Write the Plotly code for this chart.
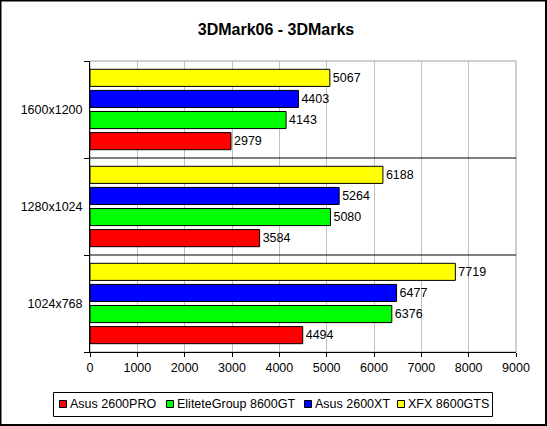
import plotly.graph_objects as go

categories = ["1024x768", "1280x1024", "1600x1200"]
series_names = ["Asus 2600PRO", "EliteteGroup 8600GT", "Asus 2600XT", "XFX 8600GTS"]
asus_2600pro = [4494, 3584, 2979]
elitegroup_8600gt = [6376, 5080, 4143]
asus_2600xt = [6477, 5264, 4403]
xfx_8600gts = [7719, 6188, 5067]
x_ticks = [0, 1000, 2000, 3000, 4000, 5000, 6000, 7000, 8000, 9000]

colors = ["#ff0000", "#00ff00", "#0000ff", "#ffff00"]
values = [asus_2600pro, elitegroup_8600gt, asus_2600xt, xfx_8600gts]

FONT = "Arial, Liberation Sans, sans-serif"
W, H = 547, 426
L, R, T, B = 90, 31, 61, 74
pw, ph = W - L - R, H - T - B


def px_x(p):
    return (p - L) / pw


def px_y(p):
    return (T + ph - p) / ph


fig = go.Figure()
for name, vals, col in zip(series_names, values, colors):
    fig.add_trace(go.Bar(
        y=categories, x=vals, name=name, orientation="h",
        marker=dict(color=col, line=dict(color="black", width=1)),
        text=[str(v) for v in vals], textposition="outside",
        textfont=dict(family=FONT, size=12.5, color="black"),
        cliponaxis=False, showlegend=False,
    ))

shapes = [
    dict(type="rect", xref="paper", yref="paper", x0=0, x1=1, y0=0, y1=1,
         line=dict(color="#a0a0a0", width=1), layer="below"),
    dict(type="line", xref="paper", yref="y", x0=0, x1=1, y0=0.5, y1=0.5,
         line=dict(color="black", width=1)),
    dict(type="line", xref="paper", yref="y", x0=0, x1=1, y0=1.5, y1=1.5,
         line=dict(color="black", width=1)),
    # outer border
    dict(type="rect", xref="paper", yref="paper",
         x0=px_x(0.5), x1=px_x(W - 1), y0=px_y(H - 1), y1=px_y(0.5),
         line=dict(color="black", width=2)),
    # legend box
    dict(type="rect", xref="paper", yref="paper",
         x0=px_x(53.5), x1=px_x(492.5), y0=px_y(416.5), y1=px_y(392.5),
         line=dict(color="black", width=1), fillcolor="white"),
]

annotations = []
legend_sq_x = [59, 166, 304, 397]
legend_cy = 404
for name, col, sx in zip(series_names, colors, legend_sq_x):
    shapes.append(dict(type="rect", xref="paper", yref="paper",
                       x0=px_x(sx + 0.5), x1=px_x(sx + 7.5),
                       y0=px_y(legend_cy + 3.5), y1=px_y(legend_cy - 3.5),
                       line=dict(color="black", width=1), fillcolor=col))
    annotations.append(dict(text=name, xref="paper", yref="paper",
                            x=px_x(sx + 9), y=px_y(legend_cy), xanchor="left",
                            yanchor="middle", showarrow=False,
                            font=dict(family=FONT, size=12.5, color="black")))

fig.update_layout(
    width=W, height=H,
    margin=dict(l=L, r=R, t=T, b=B),
    paper_bgcolor="white", plot_bgcolor="white",
    font=dict(family=FONT, size=12.5, color="black"),
    title=dict(text="<b>3DMark06 - 3DMarks</b>", x=276 / W, xanchor="center",
               y=1 - 29 / H, yanchor="middle", font=dict(family=FONT, size=16)),
    barmode="group", bargap=0.13, bargroupgap=0.19,
    showlegend=False,
    shapes=shapes, annotations=annotations,
)
fig.update_xaxes(range=[0, 9000], tickvals=x_ticks, ticktext=[str(v) for v in x_ticks],
                 showgrid=True, gridcolor="#c0c0c0", gridwidth=1,
                 showline=True, linecolor="black", linewidth=1,
                 ticks="outside", ticklen=4, tickcolor="black", zeroline=False,
                 tickfont=dict(family=FONT, size=12.5))
fig.update_yaxes(categoryorder="array", categoryarray=categories,
                 showline=True, linecolor="black", linewidth=1,
                 ticks="outside", ticklen=5, tickcolor="black",
                 tickson="boundaries", showgrid=False,
                 ticklabelstandoff=4,
                 tickfont=dict(family=FONT, size=12.5))

fig.write_html("out.html")
